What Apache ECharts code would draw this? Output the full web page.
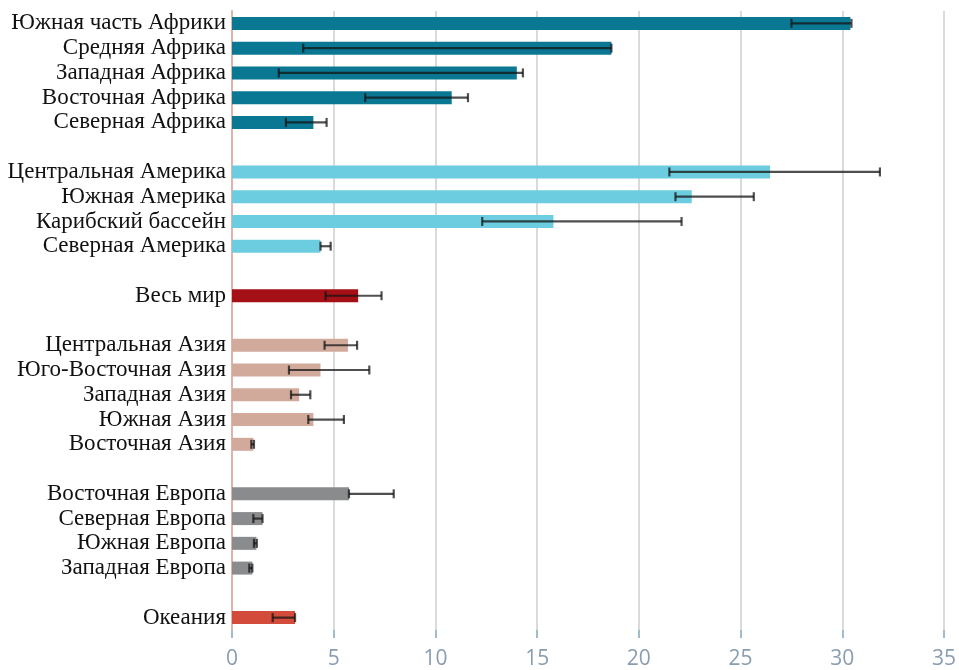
<!DOCTYPE html>
<html>
<head>
<meta charset="utf-8">
<script src="https://cdn.jsdelivr.net/npm/echarts@6/dist/echarts.min.js"></script>
<style>
html,body{margin:0;padding:0;background:#fff;}
#chart{width:959px;height:670px;}
</style>
</head>
<body>
<div id="chart"></div>
<script>
// ---- data ----
const categories = [
  'Южная часть Африки','Средняя Африка','Западная Африка','Восточная Африка','Северная Африка',
  '',
  'Центральная Америка','Южная Америка','Карибский бассейн','Северная Америка',
  ' ',
  'Весь мир',
  '  ',
  'Центральная Азия','Юго-Восточная Азия','Западная Азия','Южная Азия','Восточная Азия',
  '   ',
  'Восточная Европа','Северная Европа','Южная Европа','Западная Европа',
  '    ',
  'Океания'
];
const groups = [
  'africa','africa','africa','africa','africa',
  null,
  'america','america','america','america',
  null,
  'world',
  null,
  'asia','asia','asia','asia','asia',
  null,
  'europe','europe','europe','europe',
  null,
  'oceania'
];
const values = [
  30.4, 18.65, 14.0, 10.8, 4.0,
  null,
  26.45, 22.6, 15.8, 4.35,
  null,
  6.2,
  null,
  5.7, 4.35, 3.3, 4.0, 1.05,
  null,
  5.75, 1.5, 1.2, 1.0,
  null,
  3.1
];
const errLow = [
  27.5, 3.5, 2.3, 6.55, 2.65,
  null,
  21.5, 21.8, 12.3, 4.35,
  null,
  4.6,
  null,
  4.55, 2.8, 2.9, 3.75, 0.95,
  null,
  5.75, 1.05, 1.08, 0.85,
  null,
  2.0
];
const errHigh = [
  30.45, 18.65, 14.3, 11.6, 4.65,
  null,
  31.85, 25.65, 22.1, 4.85,
  null,
  7.35,
  null,
  6.15, 6.75, 3.85, 5.5, 1.08,
  null,
  7.95, 1.5, 1.22, 1.0,
  null,
  3.1
];
const xTicks = {min: 0, max: 35, interval: 5};

// ---- styles ----
const palette = {
  africa: '#0b7893',
  america: '#6dcde0',
  world: '#a50f16',
  asia: '#d2aa9c',
  europe: '#8a8b8d',
  oceania: '#d24b3b'
};

const barData = values.map((v, i) => v == null ? '-' : {
  value: v,
  itemStyle: {color: palette[groups[i]]}
});
const errData = errLow.map((lo, i) => lo == null ? null : [i, lo, errHigh[i]]).filter(d => d);

const chart = echarts.init(document.getElementById('chart'));
chart.setOption({
  animation: false,
  grid: {left: 232, right: 13, top: 11, bottom: 36, containLabel: false},
  xAxis: {
    type: 'value',
    min: xTicks.min, max: xTicks.max, interval: xTicks.interval,
    axisLine: {show: false},
    axisTick: {show: true, length: 8, lineStyle: {color: '#a3bccc', width: 2}},
    axisLabel: {color: '#8a9db0', fontSize: 21, fontFamily: 'Open Sans', margin: 19},
    splitLine: {show: true, lineStyle: {color: '#dadada', width: 2}}
  },
  yAxis: {
    type: 'category',
    data: categories,
    inverse: true,
    axisLine: {show: true, lineStyle: {color: '#e2b3aa', width: 2}},
    axisTick: {show: false},
    axisLabel: {color: '#111', fontSize: 23, fontFamily: 'Liberation Serif', margin: 6, interval: 0}
  },
  series: [
    {
      type: 'bar',
      data: barData,
      barWidth: 13,
      z: 2
    },
    {
      type: 'custom',
      data: errData,
      z: 3,
      encode: {x: [1, 2], y: 0},
      renderItem: function (params, api) {
        const yi = api.value(0);
        const p1 = api.coord([api.value(1), yi]);
        const p2 = api.coord([api.value(2), yi]);
        const h = 4.5;
        const style = {stroke: 'rgba(20,20,20,0.75)', lineWidth: 2.2, fill: null};
        return {
          type: 'group',
          children: [
            {type: 'line', shape: {x1: p1[0], y1: p1[1], x2: p2[0], y2: p2[1]}, style: style},
            {type: 'line', shape: {x1: p1[0], y1: p1[1] - h, x2: p1[0], y2: p1[1] + h}, style: style},
            {type: 'line', shape: {x1: p2[0], y1: p2[1] - h, x2: p2[0], y2: p2[1] + h}, style: style}
          ]
        };
      }
    }
  ]
});
</script>
</body>
</html>
